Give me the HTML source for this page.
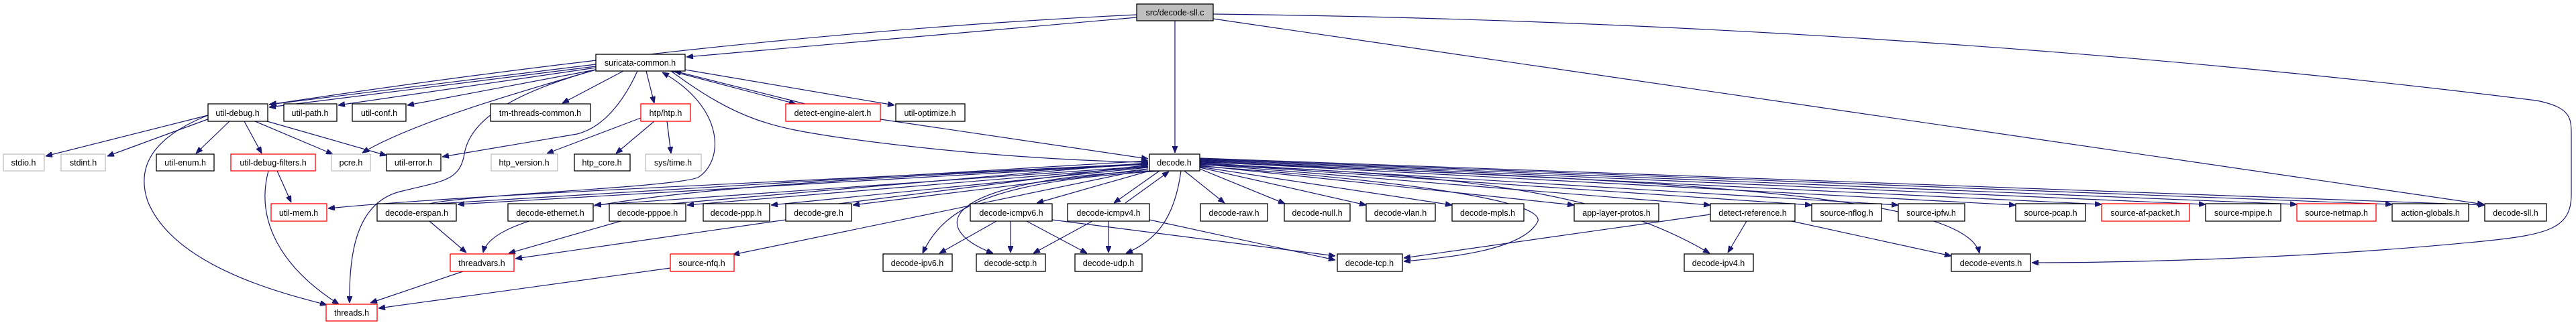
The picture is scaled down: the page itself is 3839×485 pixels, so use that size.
<!DOCTYPE html>
<html><head><meta charset="utf-8"><style>
html,body{margin:0;padding:0;background:#fff;}
svg{display:block;}
text{font-family:"Liberation Sans",sans-serif;font-size:12.5px;fill:#000;}
.e{fill:none;stroke:#191970;stroke-width:1.2;marker-end:url(#a);}
.n{fill:#fff;stroke:#000;stroke-width:1.3;}
.g{fill:#fff;stroke:#bfbfbf;stroke-width:1.3;}
.r{fill:#fff;stroke:#ff0000;stroke-width:1.3;}
</style></head><body>
<svg width="3839" height="485" viewBox="0 0 3839 485" xmlns="http://www.w3.org/2000/svg">
<defs><marker id="a" viewBox="0 0 10 8" markerWidth="10" markerHeight="8" refX="10" refY="4" orient="auto" markerUnits="userSpaceOnUse"><path d="M0,0 L10,4 L0,8 z" fill="#191970" stroke="#191970"/></marker></defs>
<g>
<!-- sll.c -->
<path class="e" d="M1694,22 Q1100,50 402,156"/>
<path class="e" d="M1694,26 L1023,85"/>
<path class="e" d="M1751,31 L1751,228"/>
<path class="e" d="M1808,28 L3702,305"/>
<path class="e" d="M1808,21 C2600,30 3300,90 3780,150 C3830,160 3832,175 3832,200 L3832,290 C3832,340 3800,350 3700,360 C3400,390 3100,392 3028,392"/>
<!-- suricata-common -->
<path class="e" d="M888,96 L401,156"/>
<path class="e" d="M888,99 L401,160"/>
<path class="e" d="M888,101 L504,157"/>
<path class="e" d="M888,104 L607,157"/>
<path class="e" d="M929,106 L838,154"/>
<path class="e" d="M888,104 C800,130 620,180 540,228"/>
<path class="e" d="M950,106 C930,150 900,190 860,200 L659,234"/>
<path class="e" d="M888,104 C760,140 700,180 692,230 C685,270 660,270 600,285 C530,300 520,380 521,452"/>
<path class="e" d="M963,106 L975,154"/>
<path class="e" d="M1000,106 L1186,155"/>
<path class="e" d="M1200,155 L1005,106"/>
<path class="e" d="M1021,104 L1333,157"/>
<path class="e" d="M1000,106 C1100,180 1150,190 1250,205 C1500,240 1700,242 1711,242"/>
<path class="e" d="M1312,178 L1711,237"/>
<path class="e" d="M640,304 C700,290 1000,280 1040,265 C1080,240 1080,160 987,108"/>
<!-- util-debug -->
<path class="e" d="M310,172 L68,233"/>
<path class="e" d="M315,176 L160,233"/>
<path class="e" d="M342,181 L292,229"/>
<path class="e" d="M364,181 L390,229"/>
<path class="e" d="M380,181 L496,230"/>
<path class="e" d="M398,181 L576,232"/>
<path class="e" d="M310,172 C240,200 200,240 220,300 C260,400 430,440 487,455"/>
<!-- udf, htp -->
<path class="e" d="M413,255 L434,302"/>
<path class="e" d="M400,255 C380,330 420,400 505,454"/>
<path class="e" d="M955,176 L815,229"/>
<path class="e" d="M975,181 L918,229"/>
<path class="e" d="M994,181 L1000,229"/>
<!-- decode.h out left -->
<path class="e" d="M1711,244 C1200,270 700,290 489,311"/>
<path class="e" d="M1711,245 L682,305"/>
<path class="e" d="M650,304 L1711,240"/>
<path class="e" d="M1711,248 L886,306"/>
<path class="e" d="M1711,249 L1024,306"/>
<path class="e" d="M1000,304 L1711,243"/>
<path class="e" d="M1711,250 L1149,306"/>
<path class="e" d="M1711,252 L1271,306"/>
<path class="e" d="M1250,304 L1711,246"/>
<path class="e" d="M1711,245 C1200,270 740,290 720,377"/>
<path class="e" d="M1711,252 L1092,380"/>
<path class="e" d="M1730,255 C1500,270 1410,300 1375,378"/>
<path class="e" d="M1711,255 C1400,270 1380,340 1480,378"/>
<path class="e" d="M1713,255 L1545,303"/>
<path class="e" d="M1728,255 L1660,303"/>
<path class="e" d="M1677,303 L1742,256"/>
<path class="e" d="M1760,255 C1750,330 1720,360 1678,378"/>
<path class="e" d="M1765,255 L1825,303"/>
<!-- decode.h out right -->
<path class="e" d="M1788,252 L1915,304"/>
<path class="e" d="M1788,250 L2036,306"/>
<path class="e" d="M1788,249 L2164,306"/>
<path class="e" d="M1788,248 C2100,270 2300,300 2292,330 C2270,375 2150,385 2092,390"/>
<path class="e" d="M1788,247 L2346,306"/>
<path class="e" d="M1788,246 C2200,260 2400,290 2548,378"/>
<path class="e" d="M1788,245 L2549,306"/>
<path class="e" d="M1788,244 L2700,306"/>
<path class="e" d="M1788,243 L2829,306"/>
<path class="e" d="M1788,242 C2500,270 2930,290 2950,378"/>
<path class="e" d="M1788,241 L3004,306"/>
<path class="e" d="M1788,240 L3132,305"/>
<path class="e" d="M1788,239 L3287,305"/>
<path class="e" d="M1788,238 L3423,305"/>
<path class="e" d="M1788,237 L3565,305"/>
<path class="e" d="M1788,236 L3703,306"/>
<!-- row5 -> row6 -->
<path class="e" d="M640,330 L695,377"/>
<path class="e" d="M925,330 L758,378"/>
<path class="e" d="M1171,328 L768,386"/>
<path class="e" d="M690,405 L552,452"/>
<path class="e" d="M999,400 L564,460"/>
<path class="e" d="M1485,330 L1400,378"/>
<path class="e" d="M1506,330 L1506,377"/>
<path class="e" d="M1530,330 L1620,378"/>
<path class="e" d="M1568,328 L1990,382"/>
<path class="e" d="M1628,330 L1540,378"/>
<path class="e" d="M1652,330 L1652,377"/>
<path class="e" d="M1713,328 L1990,388"/>
<path class="e" d="M2549,320 L2092,385"/>
<path class="e" d="M2603,330 L2575,377"/>
<path class="e" d="M2670,330 L2908,382"/>
</g>
<g>
<rect x="1694" y="6" width="114" height="25" fill="#bfbfbf" stroke="#000" stroke-width="1.3"/><text x="1751" y="23" text-anchor="middle">src/decode-sll.c</text>
<rect class="n" x="888" y="81" width="133" height="25"/><text x="954" y="98" text-anchor="middle">suricata-common.h</text>

<rect class="n" x="310" y="155" width="89" height="26"/><text x="354" y="173" text-anchor="middle">util-debug.h</text>
<rect class="n" x="423" y="155" width="79" height="26"/><text x="462" y="173" text-anchor="middle">util-path.h</text>
<rect class="n" x="525" y="155" width="80" height="26"/><text x="565" y="173" text-anchor="middle">util-conf.h</text>
<rect class="n" x="731" y="155" width="149" height="26"/><text x="805" y="173" text-anchor="middle">tm-threads-common.h</text>
<rect class="r" x="955" y="155" width="74" height="26"/><text x="992" y="173" text-anchor="middle">htp/htp.h</text>
<rect class="r" x="1171" y="155" width="141" height="26"/><text x="1241" y="173" text-anchor="middle">detect-engine-alert.h</text>
<rect class="n" x="1335" y="155" width="103" height="26"/><text x="1386" y="173" text-anchor="middle">util-optimize.h</text>

<rect class="g" x="5" y="230" width="61" height="25"/><text x="35" y="247" text-anchor="middle">stdio.h</text>
<rect class="g" x="91" y="230" width="66" height="25"/><text x="124" y="247" text-anchor="middle">stdint.h</text>
<rect class="n" x="233" y="230" width="86" height="25"/><text x="276" y="247" text-anchor="middle">util-enum.h</text>
<rect class="r" x="344" y="230" width="126" height="25"/><text x="407" y="247" text-anchor="middle">util-debug-filters.h</text>
<rect class="g" x="494" y="230" width="58" height="25"/><text x="523" y="247" text-anchor="middle">pcre.h</text>
<rect class="n" x="576" y="230" width="81" height="25"/><text x="616" y="247" text-anchor="middle">util-error.h</text>
<rect class="g" x="732" y="230" width="99" height="25"/><text x="781" y="247" text-anchor="middle">htp_version.h</text>
<rect class="n" x="856" y="230" width="83" height="25"/><text x="897" y="247" text-anchor="middle">htp_core.h</text>
<rect class="g" x="962" y="230" width="83" height="25"/><text x="1003" y="247" text-anchor="middle">sys/time.h</text>
<rect class="n" x="1713" y="230" width="75" height="25"/><text x="1750" y="247" text-anchor="middle">decode.h</text>

<rect class="r" x="404" y="304" width="83" height="26"/><text x="445" y="322" text-anchor="middle">util-mem.h</text>
<rect class="n" x="562" y="304" width="118" height="26"/><text x="621" y="322" text-anchor="middle">decode-erspan.h</text>
<rect class="n" x="757" y="304" width="127" height="26"/><text x="820" y="322" text-anchor="middle">decode-ethernet.h</text>
<rect class="n" x="908" y="304" width="114" height="26"/><text x="965" y="322" text-anchor="middle">decode-pppoe.h</text>
<rect class="n" x="1048" y="304" width="99" height="26"/><text x="1097" y="322" text-anchor="middle">decode-ppp.h</text>
<rect class="n" x="1171" y="304" width="98" height="26"/><text x="1220" y="322" text-anchor="middle">decode-gre.h</text>
<rect class="n" x="1446" y="304" width="122" height="26"/><text x="1507" y="322" text-anchor="middle">decode-icmpv6.h</text>
<rect class="n" x="1591" y="304" width="122" height="26"/><text x="1652" y="322" text-anchor="middle">decode-icmpv4.h</text>
<rect class="n" x="1789" y="304" width="100" height="26"/><text x="1839" y="322" text-anchor="middle">decode-raw.h</text>
<rect class="n" x="1914" y="304" width="98" height="26"/><text x="1963" y="322" text-anchor="middle">decode-null.h</text>
<rect class="n" x="2036" y="304" width="103" height="26"/><text x="2087" y="322" text-anchor="middle">decode-vlan.h</text>
<rect class="n" x="2164" y="304" width="107" height="26"/><text x="2217" y="322" text-anchor="middle">decode-mpls.h</text>
<rect class="n" x="2346" y="304" width="126" height="26"/><text x="2409" y="322" text-anchor="middle">app-layer-protos.h</text>
<rect class="n" x="2549" y="304" width="126" height="26"/><text x="2612" y="322" text-anchor="middle">detect-reference.h</text>
<rect class="n" x="2700" y="304" width="104" height="26"/><text x="2752" y="322" text-anchor="middle">source-nflog.h</text>
<rect class="n" x="2829" y="304" width="99" height="26"/><text x="2878" y="322" text-anchor="middle">source-ipfw.h</text>
<rect class="n" x="3004" y="304" width="104" height="26"/><text x="3056" y="322" text-anchor="middle">source-pcap.h</text>
<rect class="r" x="3132" y="304" width="131" height="26"/><text x="3197" y="322" text-anchor="middle">source-af-packet.h</text>
<rect class="n" x="3287" y="304" width="112" height="26"/><text x="3343" y="322" text-anchor="middle">source-mpipe.h</text>
<rect class="r" x="3423" y="304" width="118" height="26"/><text x="3482" y="322" text-anchor="middle">source-netmap.h</text>
<rect class="n" x="3565" y="304" width="114" height="26"/><text x="3622" y="322" text-anchor="middle">action-globals.h</text>
<rect class="n" x="3703" y="304" width="92" height="26"/><text x="3749" y="322" text-anchor="middle">decode-sll.h</text>

<rect class="r" x="671" y="379" width="95" height="26"/><text x="718" y="397" text-anchor="middle">threadvars.h</text>
<rect class="r" x="999" y="379" width="95" height="26"/><text x="1046" y="397" text-anchor="middle">source-nfq.h</text>
<rect class="n" x="1316" y="379" width="103" height="26"/><text x="1367" y="397" text-anchor="middle">decode-ipv6.h</text>
<rect class="n" x="1455" y="379" width="103" height="26"/><text x="1506" y="397" text-anchor="middle">decode-sctp.h</text>
<rect class="n" x="1602" y="379" width="100" height="26"/><text x="1652" y="397" text-anchor="middle">decode-udp.h</text>
<rect class="n" x="1993" y="379" width="97" height="26"/><text x="2041" y="397" text-anchor="middle">decode-tcp.h</text>
<rect class="n" x="2510" y="379" width="103" height="26"/><text x="2561" y="397" text-anchor="middle">decode-ipv4.h</text>
<rect class="n" x="2908" y="379" width="118" height="26"/><text x="2967" y="397" text-anchor="middle">decode-events.h</text>

<rect class="r" x="486" y="454" width="76" height="25"/><text x="524" y="471" text-anchor="middle">threads.h</text>
</g>
</svg>
</body></html>
